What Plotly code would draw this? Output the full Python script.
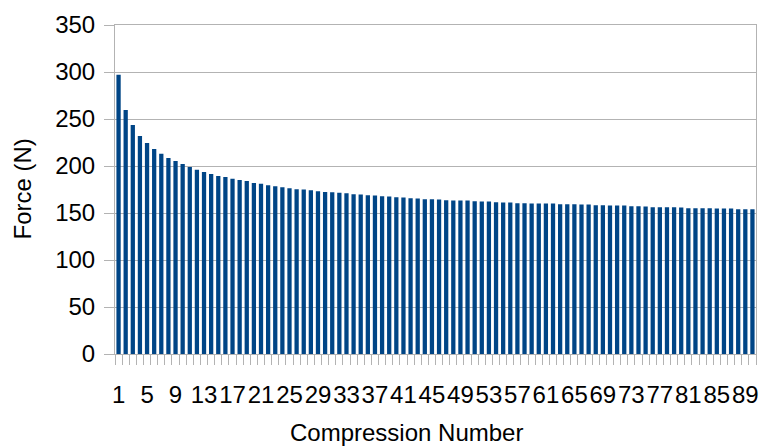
import plotly.graph_objects as go

# Compression cycle numbers and the peak force measured on each cycle
compression_number = list(range(1, 91))
force_n = [
    297.0, 259.6, 243.6, 232.0, 224.5, 218.0, 213.0, 208.5, 205.3, 202.0,
    199.0, 196.0, 193.6, 191.5, 189.4, 188.3, 186.5, 185.0, 184.0, 182.0,
    181.0, 179.6, 178.5, 177.3, 176.2, 175.2, 175.0, 174.1, 173.2, 172.4,
    172.2, 171.6, 170.9, 169.9, 169.7, 168.8, 168.6, 167.7, 167.5, 166.7,
    166.5, 165.6, 165.4, 164.6, 164.5, 164.3, 163.5, 163.4, 163.3, 163.2,
    162.4, 162.3, 162.2, 161.4, 161.3, 161.2, 160.3, 160.3, 160.2, 160.2,
    160.1, 160.1, 159.3, 159.2, 159.2, 159.1, 159.1, 158.2, 158.2, 158.1,
    158.1, 158.1, 157.1, 157.1, 157.0, 156.1, 156.0, 156.0, 156.0, 155.9,
    155.0, 155.0, 155.0, 155.0, 154.9, 154.9, 154.9, 154.0, 153.9, 153.9,
]
x_tick_labels = [str(n) for n in compression_number[::4]]

y_ticks = [0, 50, 100, 150, 200, 250, 300, 350]

BAR = "#004586"
GRID = "#b3b3b3"
FONT = "Liberation Sans, Arial, sans-serif"

fig = go.Figure(
    go.Bar(
        x=compression_number,
        y=force_n,
        marker=dict(color=BAR, line=dict(width=0)),
        width=0.6,
        hoverinfo="x+y",
    )
)

fig.update_layout(
    width=763,
    height=447,
    margin=dict(l=115, r=4, t=25, b=93),
    paper_bgcolor="white",
    plot_bgcolor="white",
    showlegend=False,
    font=dict(family=FONT, size=24, color="black"),
    annotations=[
        dict(
            text="Compression Number",
            xref="paper", yref="paper",
            x=(407.5 - 115) / 644, y=0,
            yshift=-78, yanchor="middle",
            showarrow=False,
            font=dict(family=FONT, size=24, color="black"),
        ),
        dict(
            text="Force (N)",
            xref="paper", yref="paper",
            x=0, xshift=-93, xanchor="center",
            y=0.5, yanchor="middle",
            textangle=-90,
            showarrow=False,
            font=dict(family=FONT, size=24, color="black"),
        ),
    ],
)

fig.update_xaxes(
    range=[0.5, 90.5],
    tickmode="array",
    tickvals=compression_number[::4],
    ticktext=x_tick_labels,
    tickangle=0,
    ticks="",
    showgrid=False,
    showline=True,
    linecolor=GRID,
    linewidth=1,
    mirror=True,
    ticklabelstandoff=19,
    minor=dict(
        tickmode="linear",
        tick0=0.5,
        dtick=1,
        ticks="outside",
        ticklen=10,
        tickcolor=GRID,
        tickwidth=1,
        showgrid=False,
    ),
    zeroline=False,
)

fig.update_yaxes(
    range=[0, 350],
    tickmode="array",
    tickvals=y_ticks,
    ticks="outside",
    ticklen=10,
    tickcolor=GRID,
    showgrid=True,
    gridcolor=GRID,
    gridwidth=1,
    showline=True,
    linecolor=GRID,
    linewidth=1,
    mirror=True,
    zeroline=False,
    ticklabelstandoff=4,
)

fig.write_html("out.html")
